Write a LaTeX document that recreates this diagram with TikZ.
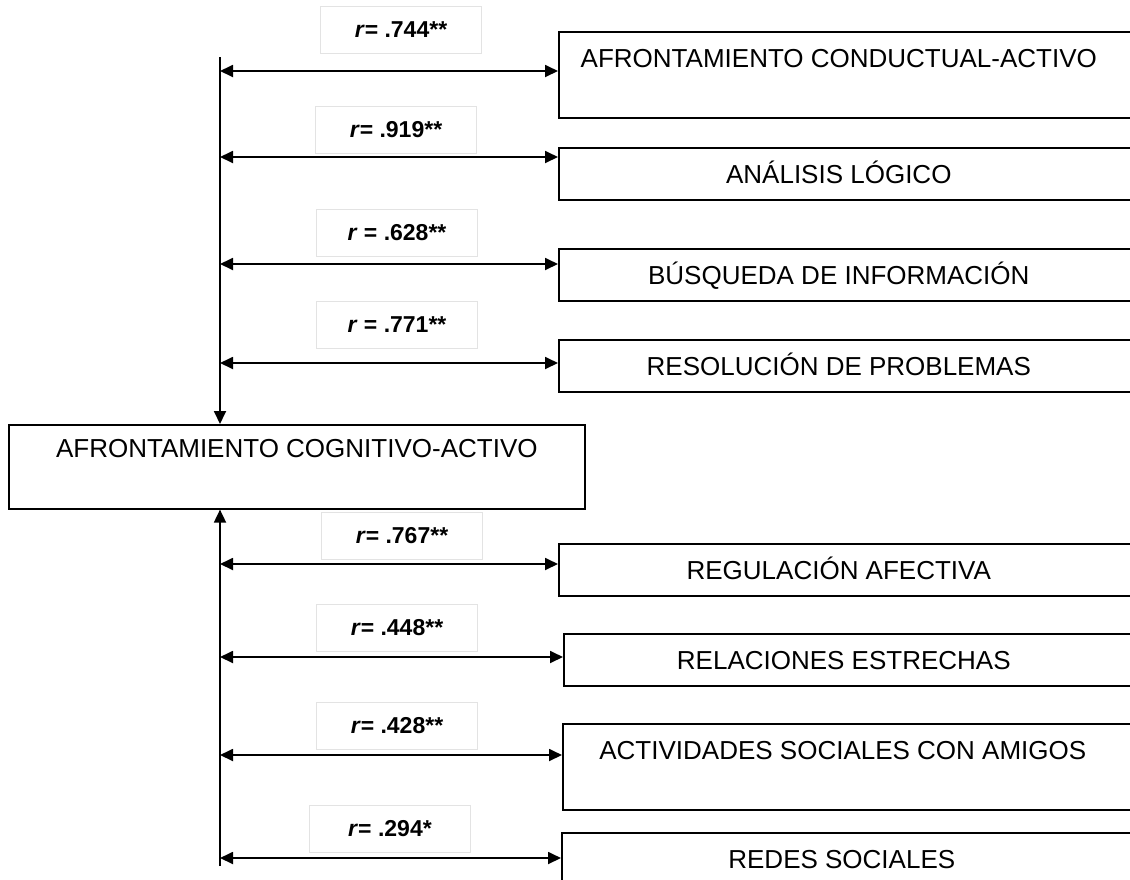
\documentclass[tikz,border=0pt]{standalone}
\usepackage{fontspec}
\setmainfont{Liberation Sans}
\usetikzlibrary{arrows.meta}
\newcommand{\boxtxt}[1]{\makebox[280pt]{#1}\hspace*{20pt}}

\begin{document}
\begin{tikzpicture}[
    x=0.5pt, y=-0.5pt,
    varbox/.style={rectangle, draw, line width=0.8pt, anchor=north west, inner sep=0pt, text height=17.7pt, text depth=8.3pt, font=\fontsize{13}{15}\selectfont},
    tallbox/.style={varbox, text depth=25.3pt},
    coef/.style={rectangle, draw=gray!22, line width=0.5pt, minimum width=80.5pt, minimum height=23.5pt, inner sep=0pt, font=\bfseries\fontsize{11.5}{13}\selectfont},
    arrow/.style={-{Triangle[length=6.5pt,width=6pt]}, line width=0.9pt},
    twoway/.style={{Triangle[length=6.5pt,width=6pt]}-{Triangle[length=6.5pt,width=6pt]}, line width=0.9pt}
]
\useasboundingbox (0,0) rectangle (1130,879);

% Central box
\node[tallbox, minimum width=288pt, text height=16.2pt, text depth=25.8pt] (cog) at (8,424) {AFRONTAMIENTO COGNITIVO-ACTIVO};

% Strategy boxes
\node[tallbox] (b1) at (558,31) {\boxtxt{AFRONTAMIENTO CONDUCTUAL-ACTIVO}};
\node[varbox] (b2) at (558,147) {\boxtxt{ANÁLISIS LÓGICO}};
\node[varbox] (b3) at (558,248) {\boxtxt{BÚSQUEDA DE INFORMACIÓN}};
\node[varbox] (b4) at (558,339) {\boxtxt{RESOLUCIÓN DE PROBLEMAS}};
\node[varbox] (b5) at (558,543) {\boxtxt{REGULACIÓN AFECTIVA}};
\node[varbox] (b6) at (563,633) {\boxtxt{RELACIONES ESTRECHAS}};
\node[tallbox] (b7) at (562,723) {\boxtxt{ACTIVIDADES SOCIALES CON AMIGOS}};
\node[varbox] (b8) at (561,832) {\boxtxt{REDES SOCIALES}};

% Correlation labels
\node[coef] (r1) at (401,30) {\textit{r}= .744**};
\node[coef] (r2) at (396,130) {\textit{r}= .919**};
\node[coef] (r3) at (397,233) {\textit{r} = .628**};
\node[coef] (r4) at (397,325) {\textit{r} = .771**};
\node[coef] (r5) at (402,536) {\textit{r}= .767**};
\node[coef] (r6) at (397,628) {\textit{r}= .448**};
\node[coef] (r7) at (397,726) {\textit{r}= .428**};
\node[coef] (r8) at (390,829) {\textit{r}= .294*};

% Points on the vertical lines
\coordinate (top) at (220,57);
\coordinate (bot) at (220,866);
\coordinate (h1) at (220,71);
\coordinate (h2) at (220,157);
\coordinate (h3) at (220,264);
\coordinate (h4) at (220,363);
\coordinate (h5) at (220,564);
\coordinate (h6) at (220,657);
\coordinate (h7) at (220,755);
\coordinate (h8) at (220,858);

% Connections
\draw[arrow] (top) -- (top |- cog.north);
\draw[arrow] (bot) -- (bot |- cog.south);
\foreach \i in {1,...,8}
    \draw[twoway] (h\i) -- (h\i -| b\i.west);

\end{tikzpicture}
\end{document}
